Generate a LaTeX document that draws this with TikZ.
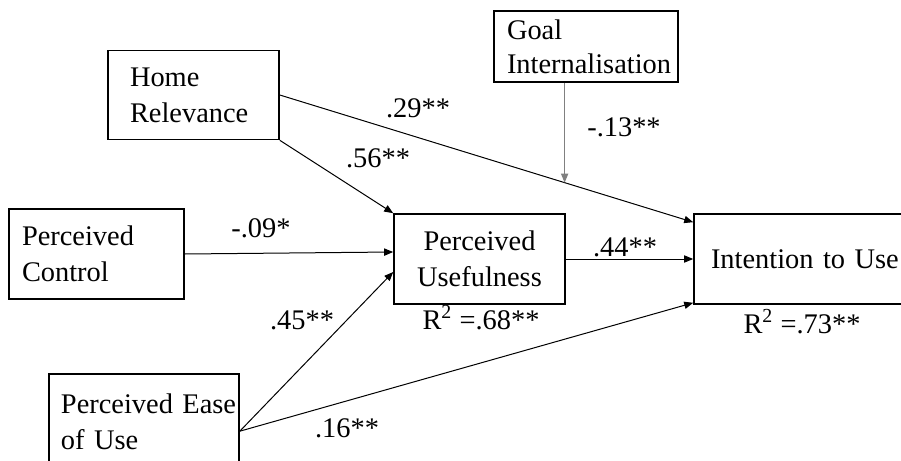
\documentclass[tikz,border=0pt]{standalone}
\usepackage{fontspec}
\setmainfont{Liberation Serif}
\usetikzlibrary{arrows.meta,calc}
\begin{document}
\begin{tikzpicture}[x=0.5pt,y=-0.5pt,
  box/.style={draw, line width=0.8pt, inner ysep=0pt, font=\fontsize{14.2}{18}\selectfont},
  lbl/.style={font=\fontsize{14.2}{18}\selectfont, anchor=base, inner sep=0pt},
  arr/.style={line width=0.5pt, -{Triangle[length=4.5pt,width=3.6pt]}},
]
\clip (0,0) rectangle (901,461);
\fill[white] (0,0) rectangle (901,461);

% boxes
\node[box, minimum width=85.5pt, minimum height=44.5pt, inner xsep=11pt, text width=63.5pt, align=left] (hr) at (193.5,95) {Home\\Relevance};
\node[box, minimum width=92pt, minimum height=35.5pt, inner xsep=6.5pt, text width=79pt, align=left, font=\fontsize{14.2}{17}\selectfont] (gi) at (586,46.5) {Goal\\\mbox{Internalisation}};
\node[box, minimum width=87.5pt, minimum height=45pt, inner xsep=6.5pt, text width=74.5pt, align=left] (pc) at (96.5,254) {Perceived\\Control};
\node[box, minimum width=85.5pt, minimum height=45pt, inner xsep=0pt, text width=85.5pt, align=center] (pu) at (479.5,259) {Perceived\\Usefulness};
\node[box, minimum width=118pt, minimum height=45pt, inner xsep=8.5pt, text width=101pt, align=left] (iu) at (812,259) {Intention to Use};
\node[box, minimum width=95pt, minimum height=48pt, inner xsep=6pt, text width=83pt, align=left] (peu) at (144,422) {\mbox{Perceived Ease}\\of Use};

% connector end points
\coordinate (iuin) at ($(iu.north west)+(0,9)$);
\coordinate (m) at ($(hr.east)!0.689!(iuin)$);
\coordinate (pcin) at ($(pu.west)+(0,-7)$);
\coordinate (peuin) at ($(pu.west)+(0,13)$);
\coordinate (peuout) at ($(peu.north east)+(0,58)$);
\coordinate (iulow) at ($(iu.south west)+(0,-2)$);

% connectors
\draw[arr] (hr.east) -- (iuin);
\draw[arr] (hr.south east) -- (pu.north west);
\draw[arr, draw=gray, fill=gray] (m |- gi.south) -- (m);
\draw[arr] (pc.east) -- (pcin);
\draw[arr] (peuout) -- (peuin);
\draw[arr] (peuout) -- (iulow);
\draw[arr] (pu.east) -- (iu.west);

% labels
\node[lbl] (l29) at (418,117) {.29**};
\node[lbl] (l56) at (378,167) {.56**};
\node[lbl] (l13) at (624,136) {-.13**};
\node[lbl] (l09) at (261,237) {-.09*};
\node[lbl] (l45) at (302,329) {.45**};
\node[lbl] (l16) at (347,437) {.16**};
\node[lbl] (l44) at (625,256) {.44**};
\node[lbl] (r1) at (481,329) {R\textsuperscript{2} =.68**};
\node[lbl] (r2) at (802,333) {R\textsuperscript{2} =.73**};
\end{tikzpicture}
\end{document}
